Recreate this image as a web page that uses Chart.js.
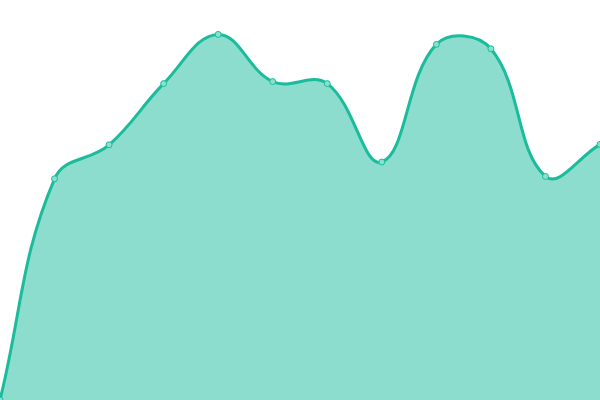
<!DOCTYPE html>
<html>
<head>
<meta charset="utf-8">
<script src="https://cdn.jsdelivr.net/npm/chart.js@4"></script>
<style>
  html, body { margin: 0; padding: 0; background: #fff; }
  canvas { display: block; }
</style>
</head>
<body>
<canvas id="areaChart" width="600" height="400"></canvas>
<script>
const labels = ['1', '2', '3', '4', '5', '6', '7', '8', '9', '10', '11', '12'];
const values = [0, 55.3, 63.8, 79.1, 91.4, 79.6, 79.1, 59.5, 88.9, 87.8, 55.9, 63.9];

const ctx = document.getElementById('areaChart').getContext('2d');

const myChart = new Chart(ctx, {
    type: 'line',
    data: {
        labels: labels,
        datasets: [{
          data: values,
          borderColor: 'rgba(26, 188, 156, 1)',
          backgroundColor: 'rgba(26, 188, 156, 0.5)',
          pointBackgroundColor: 'rgba(137, 224, 207, 1)',
          pointBorderColor: 'rgba(26, 188, 156, 1)',
          pointRadius: 3,
          pointBorderWidth: 1,
          borderWidth: 3,
          fill: true,
          tension: 0.4
        }]
    },
    options: {
        responsive: false,
        animation: false,
        layout: { padding: 0, autoPadding: false },
        plugins: {
            legend: { display: false },
            tooltip: { enabled: false }
        },
        scales: {
            x: { display: false, offset: false },
            y: { display: false, min: 0, max: 100 }
        }
    }
});
</script>
</body>
</html>
